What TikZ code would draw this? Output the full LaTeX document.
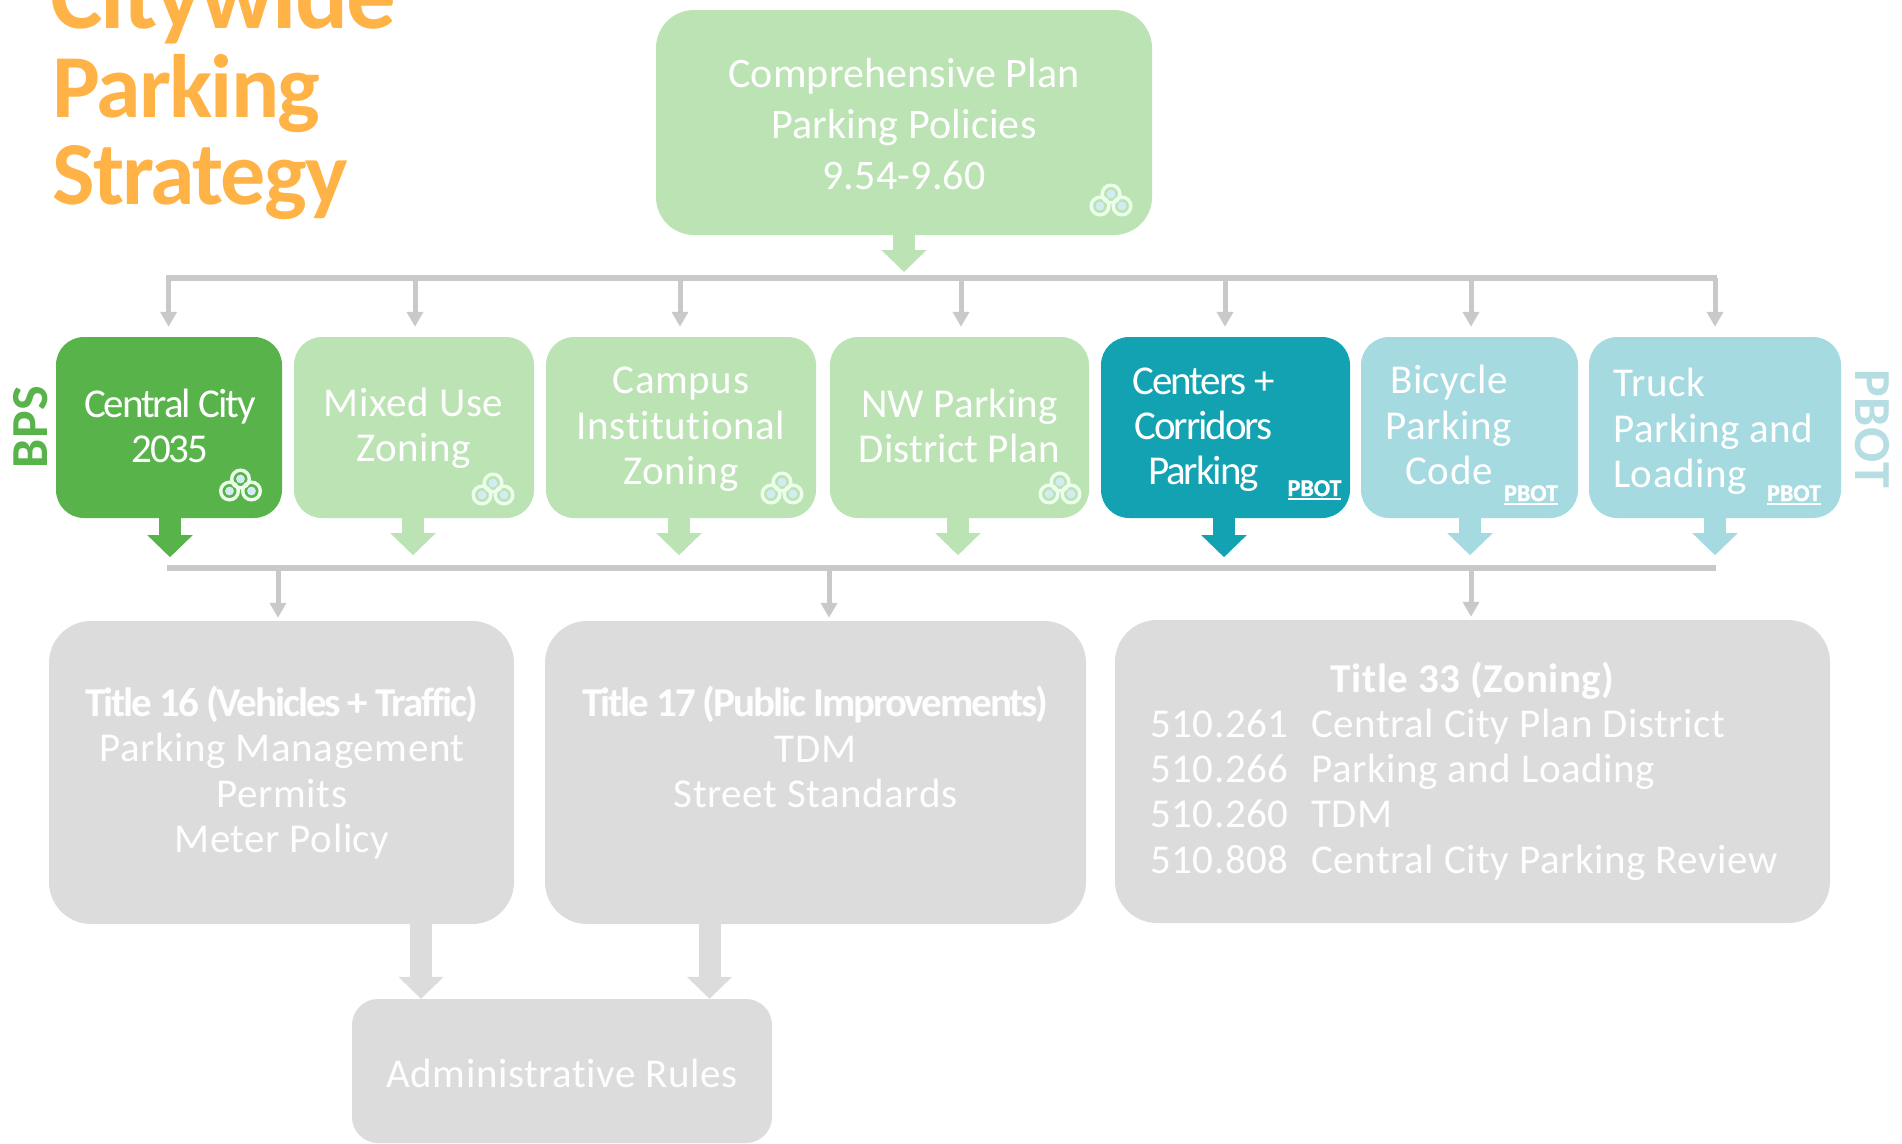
\documentclass[tikz,border=0pt]{standalone}
\usepackage{fontspec}
\usetikzlibrary{arrows.meta}
\setmainfont[LetterSpace=1.4,Ligatures=NoCommon]{Carlito}
\newfontfamily\plainfont[LetterSpace=0.4,Ligatures=NoCommon]{Carlito}
\newfontfamily\tightfont[LetterSpace=-5,Ligatures=NoCommon]{Carlito}
\newfontfamily\titlefont[LetterSpace=-2,Ligatures=NoCommon]{Carlito Bold}
\newfontfamily\boldtight[LetterSpace=-5.2,Ligatures=NoCommon]{Carlito Bold}
\newfontfamily\heavy[FakeBold=1.6]{Carlito Bold}
\definecolor{gsolid}{HTML}{57B34A}
\definecolor{glight}{HTML}{BCE3B4}
\definecolor{tsolid}{HTML}{12A2B2}
\definecolor{tlight}{HTML}{A5DAE0}
\definecolor{gbox}{HTML}{DCDCDC}
\definecolor{gline}{HTML}{C9C9C9}
\definecolor{orangetitle}{HTML}{FFB347}
\definecolor{pbotside}{HTML}{B5DDE2}
\definecolor{ringfill}{HTML}{D3ECF4}
\newcommand{\sized}[2]{\fontsize{#1}{#2}\selectfont}
\newcommand{\pbotmark}{\vtop{\hbox{PBOT}\kern1.5pt\hrule height 2pt}}
\tikzset{
  x=1pt,y=-1pt,
  box/.style={rounded corners=28pt,inner sep=0pt,draw=none},
  bigbox/.style={box,rounded corners=42pt,fill=gbox},
  lbl/.style={text=white,align=center,inner sep=0pt,font=\sized{41}{45.4}},
  greytxt/.style={lbl,text=white!96!gbox},
  conn/.style={gline,line width=5pt,-{Triangle[width=16pt,length=15pt]}},
  busline/.style={gline,line width=6pt},
  block/.style={line width=22pt,-{Triangle[width=44pt,length=22pt]}},
  smallpbot/.style={text=white,inner sep=0pt,font=\sized{24}{26}\heavy},
  titletxt/.style={anchor=base west,inner sep=0pt,text=orangetitle},
  logo/.pic={
    \foreach \a/\b in {0/-6,-11/6,11/6}{
      \draw[white!92!green,line width=3.4pt] (\a,\b) circle[radius=8.8];
    }
    \foreach \a/\b in {0/-6,-11/6,11/6}{
      \fill[ringfill] (\a,\b) circle[radius=4.4];
    }
  }
}
\begin{document}
\begin{tikzpicture}
\path[use as bounding box] (0,0) rectangle (1902,1143);
\clip (0,0) rectangle (1902,1143);

% title
\node[titletxt,font=\sized{99}{99}\titlefont] (title) at (50,28) {Citywide};
\node[titletxt,font=\sized{90}{90}\titlefont] (title2) at (52,117) {Parking};
\node[titletxt,font=\sized{90}{90}\titlefont] (title3) at (52,204) {Strategy};

% boxes
\node[box,rounded corners=38pt,fill=glight,minimum width=496pt,minimum height=225pt] (comp) at (904,122.5) {};
\node[box,fill=gsolid,minimum width=226pt,minimum height=181pt] (central) at (169,427.5) {};
\node[box,fill=glight,minimum width=240pt,minimum height=181pt] (mixed) at (414,427.5) {};
\node[box,fill=glight,minimum width=270pt,minimum height=181pt] (campus) at (681,427.5) {};
\node[box,fill=glight,minimum width=259pt,minimum height=181pt] (nw) at (959.5,427.5) {};
\node[box,fill=tsolid,minimum width=249pt,minimum height=181pt] (centers) at (1225.5,427.5) {};
\node[box,fill=tlight,minimum width=217pt,minimum height=181pt] (bicycle) at (1469.5,427.5) {};
\node[box,fill=tlight,minimum width=252pt,minimum height=181pt] (truck) at (1715,427.5) {};
\node[bigbox,minimum width=465pt,minimum height=303pt] (t16) at (281.5,772.5) {};
\node[bigbox,minimum width=541pt,minimum height=303pt] (t17) at (815.5,772.5) {};
\node[bigbox,minimum width=715pt,minimum height=303pt] (t33) at (1472.5,771.5) {};
\node[box,rounded corners=26pt,fill=gbox,minimum width=420pt,minimum height=144pt] (admin) at (562,1071) {};

% buses
\coordinate (topL) at (166,278);
\coordinate (topR) at (1717,278);
\coordinate (botL) at (167,568);
\coordinate (botR) at (1716,568);
\draw[busline] (topL) -- (topR);
\draw[busline] (botL) -- (botR);

% thin connectors
\foreach \xx/\tgt in {168.6/central,415/mixed,680/campus,961/nw,1225/centers,1471/bicycle,1715/truck}{
  \coordinate (d) at (\xx,278);
  \draw[conn,shorten >=10pt] (d) -- (d |- \tgt.north);
}
\foreach \xx/\tgt in {278/t16,829/t17,1471/t33}{
  \coordinate (d) at (\xx,568);
  \draw[conn,shorten >=3pt] (d) -- (d |- \tgt.north);
}

% block arrows
\coordinate (ctip) at (904,272);
\draw[block,glight] (comp.south) -- (ctip);
\draw[block,gsolid] ([xshift=1pt]central.south) -- ++(0,39);
\draw[block,glight] ([xshift=-1pt]mixed.south) -- ++(0,37);
\draw[block,glight] ([xshift=-2pt]campus.south) -- ++(0,37);
\draw[block,glight] ([xshift=-1.5pt]nw.south) -- ++(0,37);
\draw[block,tsolid] ([xshift=-1.5pt]centers.south) -- ++(0,39);
\draw[block,tlight] ([xshift=.5pt]bicycle.south) -- ++(0,37);
\draw[block,tlight] (truck.south) -- ++(0,37);
\coordinate (a1) at (421,924);
\coordinate (a2) at (709.5,924);
\draw[block,gbox] (a1) -- (a1 |- admin.north);
\draw[block,gbox] (a2) -- (a2 |- admin.north);

% labels
\node[lbl,font=\sized{42}{51}\plainfont] (ctext) at (904,124) {Comprehensive Plan\\Parking Policies\\9.54-9.60};
\node[lbl,font=\sized{41}{45.4}\tightfont] (ltcentral) at (170,426) {Central City\\2035};
\node[lbl] (ltmixed) at (413.5,428.4) {Mixed Use\\Zoning};
\node[lbl] (ltcampus) at (681,429.6) {Campus\\Institutional\\Zoning};
\node[lbl,font=\sized{41}{45.4}\plainfont] (ltnw) at (959.5,426) {NW Parking\\District Plan};
\node[lbl,font=\sized{41}{45.4}\tightfont] (ltcenters) at (1203.5,429.8) {Centers +\\Corridors\\Parking};
\node[lbl] (ltbicycle) at (1449,425) {Bicycle\\Parking\\Code};
\node[lbl,align=left,anchor=west] (lttruck) at (1613,431.5) {Truck\\Parking and\\Loading};

\node[greytxt] (tt16) at (282,772.4) {{\boldtight Title 16 (Vehicles + Traffic)}\\Parking Management\\Permits\\Meter Policy};
\node[greytxt] (tt17) at (815.5,747) {{\boldtight Title 17 (Public Improvements)}\\TDM\\Street Standards};
\node[greytxt,anchor=base] (tt33h) at (1473,692) {\textbf{Title 33 (Zoning)}};
\node[greytxt,align=left,anchor=west] (tt33) at (1150,794.4) {\makebox[161pt][l]{510.261}Central City Plan District\\\makebox[161pt][l]{510.266}Parking and Loading\\\makebox[161pt][l]{510.260}TDM\\\makebox[161pt][l]{510.808}Central City Parking Review};
\node[greytxt] (tadmin) at (562,1073) {Administrative Rules};

% side labels
\node[rotate=90,inner sep=0pt,text=gsolid,font=\sized{52}{56}\bfseries] (bps) at (31,427) {BPS};
\node[rotate=-90,inner sep=0pt,text=pbotside,font=\sized{52}{56}\bfseries] (pbot) at (1872,429) {PBOT};

% small PBOT
\node[smallpbot] (p1) at (1314.5,490) {\pbotmark};
\node[smallpbot] (p2) at (1531,495) {\pbotmark};
\node[smallpbot] (p3) at (1794,495) {\pbotmark};

% logos
\pic at (1111,200) {logo};
\pic at (240.5,485) {logo};
\pic at (493,489) {logo};
\pic at (782,488) {logo};
\pic at (1060,488) {logo};
\end{tikzpicture}
\end{document}
